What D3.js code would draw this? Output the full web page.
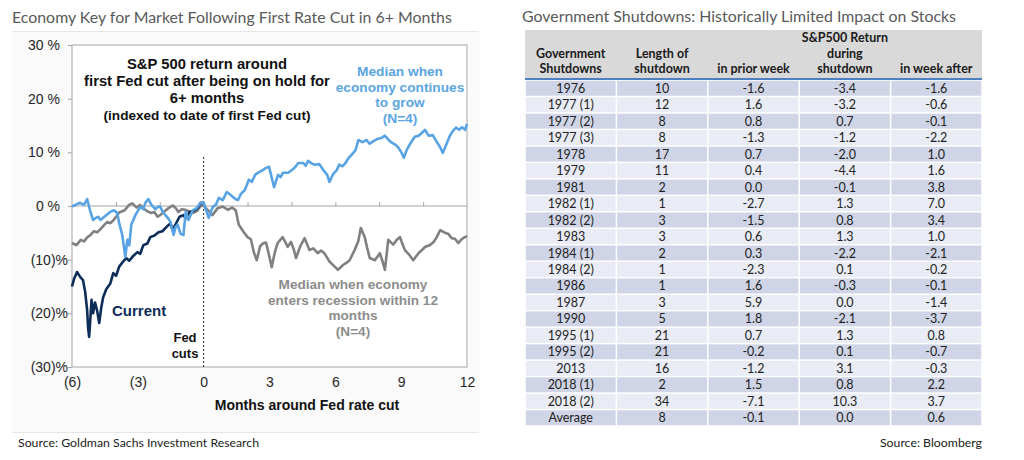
<!DOCTYPE html>
<html>
<head>
<meta charset="utf-8">
<script src="https://cdnjs.cloudflare.com/ajax/libs/d3/7.8.5/d3.min.js"></script>
<style>
  body { margin: 0; background: #fff; }
  svg { display: block; }
</style>
</head>
<body>
<svg id="graphic" width="1024" height="460"></svg>
<script>
// ---- left chart data: [month around first cut, % return] ----
var growthMedian = [
  [-6.0, -0.1], [-5.8, 0.3], [-5.63, 0.6], [-5.45, 0.2], [-5.31, 1.3], [-5.18, -0.8], [-5.04, -2.6],
  [-4.9, -2.2], [-4.81, -2.0], [-4.7, -2.6], [-4.58, -2.2], [-4.4, -1.6], [-4.26, -1.1], [-4.08, -0.8],
  [-3.94, -1.3], [-3.85, -3.2], [-3.71, -5.4], [-3.57, -9.5], [-3.48, -6.3], [-3.39, -7.3],
  [-3.3, -3.5], [-3.11, -1.7], [-3.0, -0.9], [-2.89, -0.2], [-2.75, -0.6], [-2.66, 0.6], [-2.52, 1.3],
  [-2.38, 0.2], [-2.2, -0.6], [-2.08, -0.1], [-1.97, -0.2], [-1.85, -1.2], [-1.74, -1.7],
  [-1.6, -2.4], [-1.51, -3.0], [-1.37, -5.4], [-1.28, -3.9], [-1.19, -3.5], [-1.05, -5.2],
  [-0.92, -5.4], [-0.82, -1.1], [-0.69, -2.6], [-0.5, -0.8], [-0.32, -0.4], [-0.14, 0.6],
  [0, 0.6], [0.14, -1.1], [0.23, -2.2], [0.41, -0.2], [0.55, 0.2], [0.69, 1.5], [0.87, 1.1],
  [1.05, 2.6], [1.19, 2.2], [1.33, 1.7], [1.45, 1.3], [1.56, 1.1], [1.69, 2.2], [1.88, 3.0],
  [2.06, 4.9], [2.2, 4.5], [2.34, 5.8], [2.52, 6.3], [2.7, 6.7], [2.84, 7.1], [2.98, 7.3],
  [3.07, 5.8], [3.21, 3.5], [3.39, 5.8], [3.5, 5.4], [3.62, 6.2], [3.85, 6.2], [4.08, 6.9],
  [4.2, 7.4], [4.31, 8.0], [4.54, 8.0], [4.65, 7.5], [4.76, 8.4], [4.9, 8.0], [5.04, 7.7],
  [5.27, 7.8], [5.45, 6.7], [5.63, 5.8], [5.73, 4.5], [5.91, 6.0], [6.05, 6.6], [6.18, 7.7],
  [6.32, 7.4], [6.46, 8.0], [6.6, 8.9], [6.73, 9.5], [6.92, 10.4], [7.05, 12.3], [7.24, 11.9],
  [7.42, 12.3], [7.56, 11.6], [7.74, 12.1], [7.92, 12.5], [8.11, 12.7], [8.25, 13.1], [8.43, 12.3],
  [8.57, 11.8], [8.75, 11.4], [8.89, 10.8], [9.02, 9.9], [9.12, 9.0], [9.25, 10.4], [9.44, 11.8],
  [9.62, 12.9], [9.8, 13.1], [9.94, 13.6], [10.08, 14.2], [10.26, 13.1], [10.44, 13.2],
  [10.63, 11.9], [10.77, 11.0], [10.9, 9.9], [11.09, 11.8], [11.22, 13.1], [11.36, 14.0],
  [11.5, 14.6], [11.64, 14.2], [11.77, 14.7], [11.91, 14.2], [12.0, 15.3]
];

var recessionMedian = [
  [-6.0, -6.9], [-5.8, -7.3], [-5.6, -6.3], [-5.45, -6.6], [-5.3, -5.8], [-5.15, -5.4], [-5.0, -4.7],
  [-4.85, -4.9], [-4.7, -4.3], [-4.55, -3.6], [-4.4, -3.0], [-4.25, -3.2], [-4.1, -2.6],
  [-3.95, -1.8], [-3.85, -1.2], [-3.6, -0.8], [-3.4, 0.2], [-3.25, 0.5], [-3.05, -0.3], [-2.9, 0.2],
  [-2.75, -0.4], [-2.6, -0.9], [-2.4, -1.3], [-2.25, -1.1], [-2.1, -2.0], [-1.95, -1.6],
  [-1.85, -1.2], [-1.6, -0.4], [-1.4, 0.1], [-1.25, -0.5], [-1.15, -1.1], [-1.0, -0.6],
  [-0.85, -0.7], [-0.65, -1.0], [-0.5, -1.3], [-0.3, -0.9], [-0.1, 0.2], [0, 0],
  [0.25, -1.0], [0.4, -1.7], [0.64, -0.4], [0.87, -0.1], [1.1, -0.7], [1.3, -0.3], [1.46, -0.8],
  [1.6, -3.5], [1.83, -4.9], [2.0, -5.8], [2.15, -6.2], [2.3, -8.8], [2.42, -10.1], [2.57, -7.5],
  [2.7, -7.0], [2.84, -6.8], [2.97, -9.0], [3.1, -11.4], [3.25, -8.5], [3.37, -6.9], [3.6, -5.8],
  [3.83, -7.6], [3.98, -6.7], [4.1, -8.0], [4.21, -9.7], [4.4, -7.5], [4.6, -6.0], [4.82, -8.2],
  [5.0, -7.9], [5.2, -8.8], [5.35, -8.3], [5.5, -8.8], [5.74, -10.4], [5.95, -11.2], [6.12, -11.9],
  [6.35, -11.0], [6.5, -10.6], [6.65, -10.1], [6.88, -8.2], [7.05, -6.5], [7.16, -4.1],
  [7.34, -5.8], [7.45, -7.8], [7.57, -9.7], [7.8, -10.1], [8.03, -8.8], [8.15, -10.3],
  [8.26, -11.9], [8.41, -6.3], [8.64, -7.2], [8.8, -6.3], [8.95, -5.8], [9.05, -7.0], [9.17, -8.2],
  [9.35, -9.0], [9.55, -10.1], [9.79, -8.8], [9.95, -8.2], [10.1, -7.6], [10.3, -7.3],
  [10.48, -6.7], [10.62, -5.8], [10.78, -4.5], [11.0, -5.0], [11.15, -5.2], [11.3, -6.0],
  [11.45, -6.1], [11.6, -6.9], [11.75, -6.2], [11.9, -5.8], [12.0, -5.6]
];

var currentCycle = [
  [-6.0, -15.0], [-5.9, -13.5], [-5.77, -12.3], [-5.63, -13.2], [-5.5, -13.8], [-5.4, -16.0],
  [-5.31, -19.4], [-5.27, -22.5], [-5.22, -24.4], [-5.18, -22.0], [-5.11, -17.5], [-5.04, -20.0],
  [-4.95, -18.0], [-4.86, -19.4], [-4.76, -21.8], [-4.67, -19.0], [-4.58, -17.0], [-4.44, -15.5],
  [-4.26, -14.5], [-4.12, -12.5], [-3.99, -13.0], [-3.85, -11.3], [-3.66, -10.3], [-3.53, -9.7],
  [-3.39, -10.2], [-3.21, -9.3], [-3.02, -8.6], [-2.89, -8.9], [-2.75, -7.3], [-2.57, -7.0],
  [-2.43, -5.8], [-2.24, -5.5], [-2.06, -4.9], [-1.88, -4.7], [-1.69, -3.9], [-1.51, -3.2],
  [-1.42, -4.5], [-1.28, -3.4], [-1.1, -2.0], [-0.92, -1.7], [-0.82, -2.3], [-0.64, -1.1],
  [-0.46, -0.9], [-0.27, -0.4], [-0.14, 0.6], [0, 0.5]
];

var yTicks = [30, 20, 10, 0, -10, -20, -30];
var xTicks = [-6, -3, 0, 3, 6, 9, 12];
var zeroLineTicks = [-4, -2, 2, 4, 6, 8, 10];

// ---- right table data ----
var shutdowns = ["1976", "1977 (1)", "1977 (2)", "1977 (3)", "1978", "1979", "1981", "1982 (1)",
  "1982 (2)", "1983", "1984 (1)", "1984 (2)", "1986", "1987", "1990", "1995 (1)", "1995 (2)",
  "2013", "2018 (1)", "2018 (2)", "Average"];
var shutdownLength = [10, 12, 8, 8, 17, 11, 2, 1, 3, 3, 2, 1, 1, 3, 5, 21, 21, 16, 2, 34, 8];
var priorWeek = [-1.6, 1.6, 0.8, -1.3, 0.7, 0.4, 0.0, -2.7, -1.5, 0.6, 0.3, -2.3, 1.6, 5.9, 1.8,
  0.7, -0.2, -1.2, 1.5, -7.1, -0.1];
var duringShutdown = [-3.4, -3.2, 0.7, -1.2, -2.0, -4.4, -0.1, 1.3, 0.8, 1.3, -2.2, 0.1, -0.3,
  0.0, -2.1, 1.3, 0.1, 3.1, 0.8, 10.3, 0.0];
var weekAfter = [-1.6, -0.6, -0.1, -2.2, 1.0, 1.6, 3.8, 7.0, 3.4, 1.0, -2.1, -0.2, -0.1, -1.4,
  -3.7, 0.8, -0.7, -0.3, 2.2, 3.7, 0.6];
var columnKeys = ["name", "len", "prior", "during", "after"];

var svg = d3.select("#graphic");
var calibri = "Lato, 'Open Sans', sans-serif";
var arial = "'Liberation Sans', Arial, sans-serif";

// ================= LEFT PANEL =================
svg.append("rect").attr("x", 12).attr("y", 32).attr("width", 468).attr("height", 400)
   .attr("fill", "#fafafa");
svg.append("text").attr("x", 12).attr("y", 23)
   .attr("font-family", calibri).attr("font-size", 15.9).attr("fill", "#595959")
   .text("Economy Key for Market Following First Rate Cut in 6+ Months");
svg.append("line").attr("x1", 12).attr("x2", 479).attr("y1", 31.5).attr("y2", 31.5)
   .attr("stroke", "#e6e6e6");
svg.append("line").attr("x1", 12).attr("x2", 479).attr("y1", 432.5).attr("y2", 432.5)
   .attr("stroke", "#e6e6e6");
svg.append("text").attr("x", 18).attr("y", 447)
   .attr("font-family", calibri).attr("font-size", 12.3).attr("fill", "#222")
   .text("Source: Goldman Sachs Investment Research");

var xScale = d3.scaleLinear().domain([-6, 12]).range([72, 467]);
var yScale = d3.scaleLinear().domain([-30, 30]).range([367, 45]);

svg.append("rect")
   .attr("x", xScale(-6)).attr("y", yScale(30))
   .attr("width", xScale(12) - xScale(-6)).attr("height", yScale(-30) - yScale(30))
   .attr("fill", "#fff").attr("stroke", "#a6a6a6");

// y axis
var yAxis = svg.append("g")
   .attr("transform", "translate(" + xScale(-6) + ",0)")
   .call(d3.axisLeft(yScale).tickValues(yTicks).tickSize(4).tickPadding(5)
     .tickFormat(function(d){ return d < 0 ? "(" + Math.abs(d) + ")%" : d + " %"; }));
yAxis.select(".domain").remove();
yAxis.selectAll("line").attr("stroke", "#a6a6a6");
yAxis.selectAll("text")
   .attr("font-family", arial).attr("font-size", 14).attr("fill", "#262626")
   .attr("x", function(d){ return d < 0 ? -4 : -12; });

// zero line with small ticks
svg.append("line").attr("x1", xScale(-6)).attr("x2", xScale(12))
   .attr("y1", yScale(0)).attr("y2", yScale(0)).attr("stroke", "#a6a6a6").attr("stroke-width", 1.2);
var zeroAxis = svg.append("g")
   .attr("transform", "translate(0," + yScale(0) + ")")
   .call(d3.axisTop(xScale).tickValues(zeroLineTicks).tickSize(4).tickFormat(""));
zeroAxis.select(".domain").remove();
zeroAxis.selectAll("line").attr("stroke", "#a6a6a6");

// x axis labels
var xAxis = svg.append("g")
   .attr("transform", "translate(0," + yScale(-30) + ")")
   .call(d3.axisBottom(xScale).tickValues(xTicks).tickSize(0).tickPadding(10)
     .tickFormat(function(d){ return d < 0 ? "(" + Math.abs(d) + ")" : d; }));
xAxis.select(".domain").remove();
xAxis.selectAll("text").attr("font-family", arial).attr("font-size", 14).attr("fill", "#262626");

svg.append("text").attr("x", 307).attr("y", 410).attr("text-anchor", "middle")
   .attr("font-family", arial).attr("font-size", 14).attr("font-weight", "bold").attr("fill", "#111")
   .text("Months around Fed rate cut");

// Fed cut dashed line
svg.append("line").attr("x1", xScale(0)).attr("x2", xScale(0))
   .attr("y1", 157).attr("y2", yScale(-30))
   .attr("stroke", "#222").attr("stroke-width", 1).attr("stroke-dasharray", "2,2");

// lines
var line = d3.line()
   .x(function(d){ return xScale(d[0]); })
   .y(function(d){ return yScale(d[1]); });

svg.append("path").datum(recessionMedian).attr("d", line)
   .attr("fill", "none").attr("stroke", "#808080").attr("stroke-width", 2.6).attr("stroke-linejoin", "round");
svg.append("path").datum(currentCycle).attr("d", line)
   .attr("fill", "none").attr("stroke", "#0d2d59").attr("stroke-width", 2.6).attr("stroke-linejoin", "round");
svg.append("path").datum(growthMedian).attr("d", line)
   .attr("fill", "none").attr("stroke", "#57a3e3").attr("stroke-width", 2.6).attr("stroke-linejoin", "round");

// annotations
function multiText(lines, x, y0, dy, size, color){
  var t = svg.append("text").attr("text-anchor", "middle")
     .attr("font-family", arial).attr("font-weight", "bold").attr("fill", color);
  lines.forEach(function(s, i){
    t.append("tspan").attr("x", x).attr("y", y0 + i * dy)
     .attr("font-size", Array.isArray(size) ? size[i] : size).text(s);
  });
}
multiText(["S&P 500 return around", "first Fed cut after being on hold for", "6+ months",
           "(indexed to date of first Fed cut)"], 207, 69, 17, [14.8, 14.8, 14.8, 13.6], "#111");
multiText(["Median when", "economy continues", "to grow", "(N=4)"], 400, 76, 15.5, 13.7, "#5aa5e3");
multiText(["Median when economy", "enters recession within 12", "months", "(N=4)"], 353, 289, 15.5, 13.6, "#8c8c8c");
multiText(["Fed", "cuts"], 185, 342, 15.5, 13, "#111");
svg.append("text").attr("x", 112).attr("y", 316)
   .attr("font-family", arial).attr("font-weight", "bold").attr("font-size", 15).attr("fill", "#0d2d59")
   .text("Current");

// ================= RIGHT PANEL (table) =================
svg.append("text").attr("x", 522).attr("y", 22)
   .attr("font-family", calibri).attr("font-size", 15.9).attr("fill", "#595959")
   .text("Government Shutdowns: Historically Limited Impact on Stocks");
svg.append("text").attr("x", 982).attr("y", 447).attr("text-anchor", "end")
   .attr("font-family", calibri).attr("font-size", 12.3).attr("fill", "#222")
   .text("Source: Bloomberg");

var rows = shutdowns.map(function(s, i){
  return { name: s, len: shutdownLength[i], prior: priorWeek[i],
           during: duringShutdown[i], after: weekAfter[i] };
});

var colScale = d3.scaleBand().domain(columnKeys).range([525, 982]);
var rowScale = d3.scaleBand().domain(d3.range(rows.length)).range([80, 426]);

svg.append("rect").attr("x", 525).attr("y", 30).attr("width", 457).attr("height", 49)
   .attr("fill", "#d9d9d9");
svg.append("line").attr("x1", 525).attr("x2", 982).attr("y1", 79).attr("y2", 79)
   .attr("stroke", "#4f7fc0").attr("stroke-width", 2);

var headerLines = {
  name: ["", "Government", "Shutdowns"],
  len: ["", "Length of", "shutdown"],
  prior: ["", "", "in prior week"],
  during: ["S&P500 Return", "during", "shutdown"],
  after: ["", "", "in week after"]
};
columnKeys.forEach(function(k){
  headerLines[k].forEach(function(s, i){
    if (!s) return;
    svg.append("text")
       .attr("x", colScale(k) + colScale.bandwidth() / 2).attr("y", 42 + i * 15.5)
       .attr("text-anchor", "middle").attr("font-family", calibri).attr("font-weight", "bold")
       .attr("font-size", 12.5).attr("fill", "#1a1a1a").text(s);
  });
});

var rowG = svg.selectAll("g.row").data(rows).enter().append("g").attr("class", "row");
columnKeys.forEach(function(k){
  rowG.append("rect")
     .attr("x", colScale(k) + 0.75).attr("y", function(d, i){ return rowScale(i) + 0.75; })
     .attr("width", colScale.bandwidth() - 1.5).attr("height", rowScale.bandwidth() - 1.5)
     .attr("fill", function(d, i){ return i % 2 === 0 ? "#cfd5e6" : "#e9ecf4"; });
  rowG.append("text")
     .attr("x", colScale(k) + colScale.bandwidth() / 2)
     .attr("y", function(d, i){ return rowScale(i) + rowScale.bandwidth() / 2 + 4.5; })
     .attr("text-anchor", "middle").attr("font-family", calibri).attr("font-size", 12.5)
     .attr("fill", "#222")
     .text(function(d){
       var v = d[k];
       if (k === "name" || k === "len") return v;
       return v.toFixed(1);
     });
});
</script>
</body>
</html>
